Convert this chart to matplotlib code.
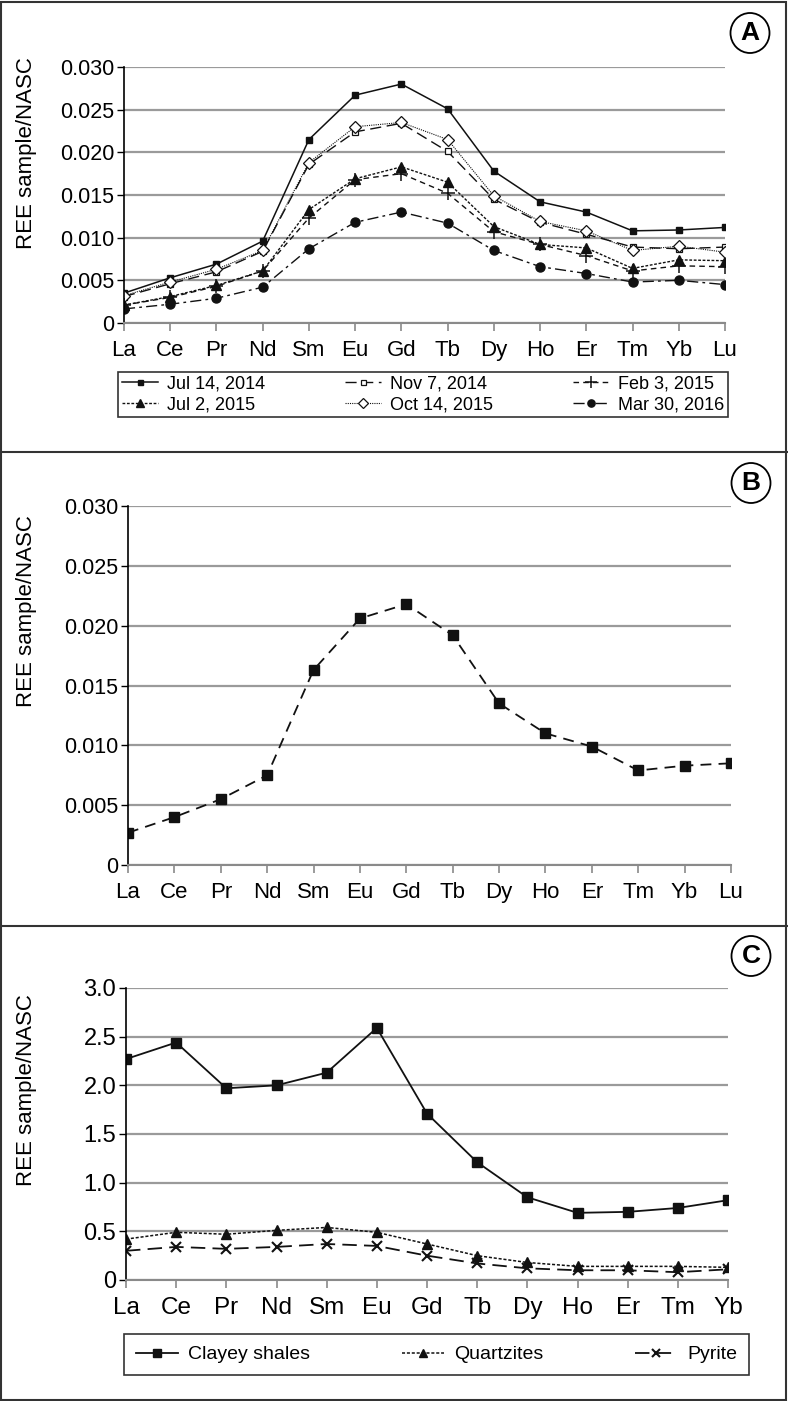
import numpy as np
import matplotlib
matplotlib.use('Agg')
import matplotlib.pyplot as plt
from matplotlib.patches import Rectangle, Ellipse
from matplotlib.lines import Line2D

# Dữ liệu
ree_ab = ['La', 'Ce', 'Pr', 'Nd', 'Sm', 'Eu', 'Gd', 'Tb', 'Dy', 'Ho', 'Er', 'Tm', 'Yb', 'Lu']
ree_c = ['La', 'Ce', 'Pr', 'Nd', 'Sm', 'Eu', 'Gd', 'Tb', 'Dy', 'Ho', 'Er', 'Tm', 'Yb']

jul_14_2014 = [0.0035, 0.0053, 0.0069, 0.0096, 0.0215, 0.0267, 0.0280, 0.0251, 0.0178, 0.0142, 0.0130, 0.0108, 0.0109, 0.0112]
nov_7_2014 = [0.0031, 0.0046, 0.0060, 0.0084, 0.0186, 0.0224, 0.0234, 0.0201, 0.0145, 0.0118, 0.0104, 0.0089, 0.0087, 0.0089]
feb_3_2015 = [0.0021, 0.0030, 0.0043, 0.0061, 0.0123, 0.0168, 0.0175, 0.0152, 0.0107, 0.0092, 0.0079, 0.0061, 0.0067, 0.0066]
jul_2_2015 = [0.0021, 0.0031, 0.0044, 0.0061, 0.0133, 0.0169, 0.0183, 0.0165, 0.0113, 0.0092, 0.0088, 0.0064, 0.0074, 0.0073]
oct_14_2015 = [0.0032, 0.0048, 0.0063, 0.0085, 0.0188, 0.0230, 0.0235, 0.0215, 0.0149, 0.0119, 0.0108, 0.0085, 0.0090, 0.0083]
mar_30_2016 = [0.00165, 0.0022, 0.0029, 0.0042, 0.0087, 0.0118, 0.0130, 0.0117, 0.0085, 0.0066, 0.0058, 0.0048, 0.0050, 0.0045]

panel_b = [0.0027, 0.0040, 0.0055, 0.0075, 0.0163, 0.0206, 0.0218, 0.0192, 0.0135, 0.0110, 0.0099, 0.0079, 0.0083, 0.0085]

clayey_shales = [2.27, 2.44, 1.97, 2.00, 2.13, 2.59, 1.71, 1.21, 0.85, 0.69, 0.70, 0.74, 0.82]
quartzites = [0.42, 0.49, 0.47, 0.51, 0.54, 0.49, 0.37, 0.25, 0.18, 0.14, 0.14, 0.14, 0.13]
pyrite = [0.30, 0.34, 0.32, 0.34, 0.37, 0.35, 0.25, 0.17, 0.12, 0.10, 0.10, 0.08, 0.11]

ticks_ab = [0, 0.005, 0.010, 0.015, 0.020, 0.025, 0.030]
tick_labels_ab = ['0', '0.005', '0.010', '0.015', '0.020', '0.025', '0.030']
ticks_c = [0, 0.5, 1.0, 1.5, 2.0, 2.5, 3.0]
tick_labels_c = ['0', '0.5', '1.0', '1.5', '2.0', '2.5', '3.0']

W, H = 788, 1401
NARROW = ['Liberation Sans Narrow', 'Liberation Sans', 'DejaVu Sans']
REG = ['Liberation Sans', 'DejaVu Sans']
K = '#111111'

fig = plt.figure(figsize=(W / 100, H / 100), dpi=100)


def box(left, top, right, bottom):
    # đổi toạ độ pixel sang toạ độ figure
    return [left / W, 1 - bottom / H, (right - left) / W, (bottom - top) / H]


def style_axes(ax, cats, ticks, labels, fs_y):
    ax.set_xlim(0, len(cats) - 1)
    ax.set_ylim(ticks[0], ticks[-1])
    ax.set_xticks(np.arange(len(cats)))
    ax.set_xticklabels(cats, family=NARROW, fontsize=16)
    ax.set_yticks(ticks)
    ax.set_yticklabels(labels, family=NARROW, fontsize=fs_y)
    ax.spines['top'].set_visible(False)
    ax.spines['right'].set_visible(False)
    ax.spines['left'].set_color('black')
    ax.spines['left'].set_linewidth(1.2)
    ax.spines['bottom'].set_color('#8a8a8a')
    ax.spines['bottom'].set_linewidth(1.5)
    ax.tick_params(axis='x', direction='out', length=6, width=1.2, color='#8a8a8a', pad=6)
    ax.tick_params(axis='y', direction='out', length=5, width=1.0, color='black', pad=2)
    ax.yaxis.grid(True, color='#9a9a9a', linewidth=1.6)
    ax.set_axisbelow(True)
    ax.patch.set_alpha(0)


def panel_letter(cx, cy, letter):
    fig.patches.append(Ellipse((cx / W, 1 - cy / H), 39 / W, 40 / H, transform=fig.transFigure,
                               facecolor='white', edgecolor='black', linewidth=1.3))
    fig.text(cx / W, 1 - cy / H, letter, ha='center', va='center', fontsize=19,
             fontweight='bold', family=REG)


# Khung và đường phân cách
fig.patches.append(Rectangle((1 / W, 1 / H), (W - 3) / W, (H - 3) / H, transform=fig.transFigure,
                             fill=False, edgecolor='#333333', linewidth=1.5))
for yy in [452, 926]:
    fig.add_artist(Line2D([0, 1], [1 - yy / H, 1 - yy / H], transform=fig.transFigure,
                          color='#333333', linewidth=1.5))

# Panel A
axA = fig.add_axes(box(124, 67, 725, 323))
xa = np.arange(len(ree_ab))
hA = []
hA.append(axA.plot(xa, jul_14_2014, color=K, lw=1.1, ls='-', marker='s', ms=4.5, mfc=K, mec=K, label='Jul 14, 2014')[0])
hA.append(axA.plot(xa, jul_2_2015, color=K, lw=1.0, ls=(0, (2, 1.2)), marker='^', ms=6.5, mfc=K, mec=K, label='Jul 2, 2015')[0])
hA.append(axA.plot(xa, nov_7_2014, color=K, lw=1.0, ls=(0, (8, 4)), marker='s', ms=4.5, mfc='white', mec=K, mew=0.9, label='Nov 7, 2014')[0])
hA.append(axA.plot(xa, oct_14_2015, color=K, lw=0.8, ls=(0, (1, 1)), marker='D', ms=6, mfc='white', mec=K, mew=0.9, label='Oct 14, 2015')[0])
hA.append(axA.plot(xa, feb_3_2015, color=K, lw=1.0, ls=(0, (4, 3)), marker='+', ms=10, mec=K, mew=1.1, label='Feb 3, 2015')[0])
hA.append(axA.plot(xa, mar_30_2016, color=K, lw=1.0, ls=(0, (8, 3, 2, 3)), marker='o', ms=6.5, mfc=K, mec=K, label='Mar 30, 2016')[0])
style_axes(axA, ree_ab, ticks_ab, tick_labels_ab, 15.5)
fig.text(27 / W, 1 - 153 / H, 'REE sample/NASC', rotation=90, ha='center', va='center', fontsize=16, family=REG)
legA = fig.legend(handles=hA, loc='lower left', bbox_to_anchor=box(118, 374, 728, 417), mode='expand',
                  ncol=3, borderaxespad=0, fancybox=False, edgecolor='#333333', framealpha=1,
                  prop={'family': REG, 'size': 13}, handlelength=2.0, handletextpad=0.5,
                  borderpad=0.2, labelspacing=0.2, columnspacing=1.0, markerscale=0.8)
legA.get_frame().set_linewidth(1.2)
panel_letter(750, 33, 'A')

# Panel B
axB = fig.add_axes(box(128, 506, 731, 865))
axB.plot(xa, panel_b, color=K, lw=1.3, ls=(0, (6, 4)), marker='s', ms=7, mfc=K, mec=K)
style_axes(axB, ree_ab, ticks_ab, tick_labels_ab, 15.5)
fig.text(27 / W, 1 - 611 / H, 'REE sample/NASC', rotation=90, ha='center', va='center', fontsize=16, family=REG)
panel_letter(751, 483, 'B')

# Panel C
axC = fig.add_axes(box(126, 988, 728, 1280))
xc = np.arange(len(ree_c))
hC = []
hC.append(axC.plot(xc, clayey_shales, color=K, lw=1.3, ls='-', marker='s', ms=7, mfc=K, mec=K, label='Clayey shales')[0])
hC.append(axC.plot(xc, quartzites, color=K, lw=1.1, ls=(0, (2, 1.2)), marker='^', ms=7.5, mfc=K, mec=K, label='Quartzites')[0])
hC.append(axC.plot(xc, pyrite, color=K, lw=1.3, ls=(0, (8, 4)), marker='x', ms=7.5, mec=K, mew=1.5, label='Pyrite')[0])
style_axes(axC, ree_c, ticks_c, tick_labels_c, 17)
for t in axC.get_xticklabels():
    t.set_fontsize(17.5)
fig.text(27 / W, 1 - 1090 / H, 'REE sample/NASC', rotation=90, ha='center', va='center', fontsize=16, family=REG)
legC = fig.legend(handles=hC, loc='lower left', bbox_to_anchor=box(124, 1333, 749, 1375), mode='expand',
                  ncol=3, borderaxespad=0, fancybox=False, edgecolor='#333333', framealpha=1,
                  prop={'family': NARROW, 'size': 14}, handlelength=2.2, handletextpad=0.5,
                  borderpad=0.6, columnspacing=1.0, markerscale=0.8)
legC.get_frame().set_linewidth(1.2)
panel_letter(751, 956, 'C')

plt.savefig('out.png', dpi=100)
